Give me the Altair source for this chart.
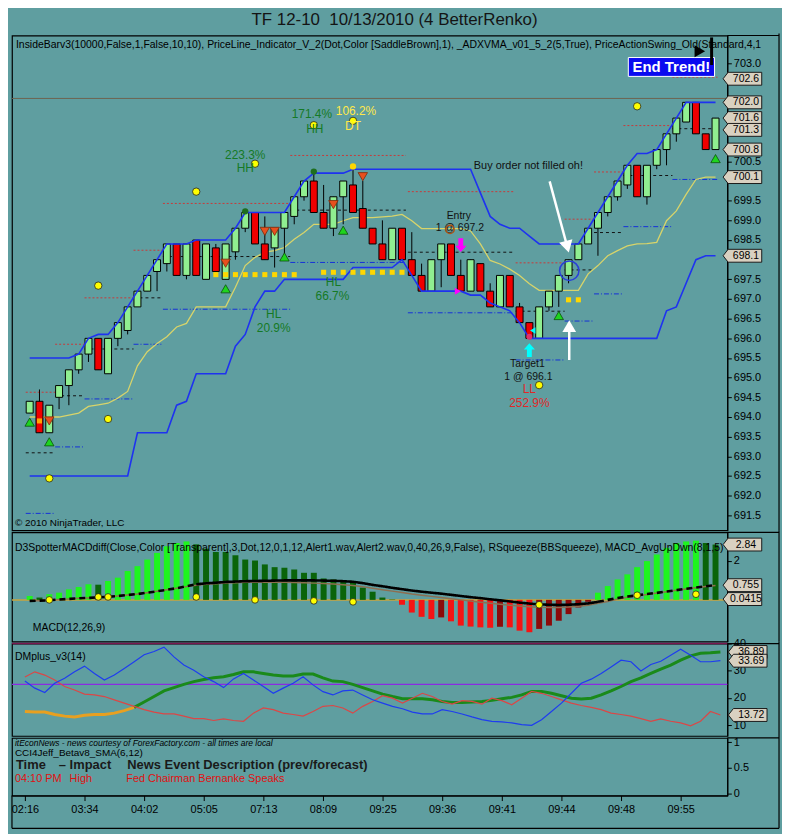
import altair as alt
import pandas as pd

FONT = "Liberation Sans"
BG = "#5F9EA0"
W = 720
H_PRICE, H_MACD, H_DMI, H_NEWS = 498, 110, 93, 58
X_DOMAIN = [-1.3, 70.7]
TAG_I = 73.0
RIGHT_EDGE = 772
FOOT = 33

# ---------------- data ----------------
title_text = "TF 12-10\u00a0 10/13/2010 (4 BetterRenko)"
time_labels = ["02:16", "03:34", "04:02", "05:05", "07:13", "08:09",
               "09:25", "09:36", "09:41", "09:44", "09:48", "09:55"]
tick_bars = [0, 6, 12, 18, 24, 30, 36, 42, 48, 54, 60, 66]
price_ticks = [691.5, 692.0, 692.5, 693.0, 693.5, 694.0, 694.5, 695.0, 695.5,
               696.0, 696.5, 697.0, 697.5, 698.5, 699.0, 699.5,
               700.5, 703.0]

bar_open = [694.1, 694.4, 693.6, 694.5, 694.8, 695.2, 695.6, 696.0, 695.1, 696.0,
            696.2, 696.8, 697.2, 697.7, 697.9, 698.4, 697.6, 698.5, 697.5, 698.3,
            697.5, 698.2, 698.8, 699.2, 698.4, 698.3, 698.8, 699.1, 699.6, 700.0,
            699.2, 698.8, 699.6, 699.9, 699.3, 698.8, 698.4, 698.0, 698.8, 698.0,
            697.6, 697.2, 698.0, 698.4, 697.6, 697.2, 697.9, 697.2, 696.8, 697.6,
            696.8, 696.4, 696.0, 696.8, 697.2, 697.6, 698.0, 698.4, 698.8, 699.2,
            699.6, 699.9, 700.4, 699.6, 700.4, 700.8, 701.2, 701.5, 702.0, 701.2,
            700.8]
bar_close = [694.4, 693.6, 694.3, 694.8, 695.2, 695.6, 696.0, 695.2, 696.0, 696.4,
             696.8, 697.2, 697.6, 698.0, 698.4, 697.6, 698.4, 697.6, 698.4, 697.7,
             698.4, 698.8, 699.2, 698.4, 698.0, 698.8, 699.2, 699.6, 700.0, 699.2,
             698.8, 699.6, 700.0, 699.2, 698.8, 698.4, 698.0, 698.8, 698.0, 697.6,
             697.2, 698.0, 698.4, 697.6, 697.2, 698.0, 697.2, 696.8, 697.6, 696.8,
             696.4, 696.0, 696.8, 697.2, 697.6, 698.0, 698.4, 698.8, 699.2, 699.6,
             700.0, 700.4, 699.6, 700.4, 700.8, 701.2, 701.6, 702.0, 701.2, 700.8,
             701.6]
bar_high = [694.4, 694.7, 694.3, 694.8, 695.2, 695.6, 696.0, 696.0, 696.0, 696.4,
            696.8, 697.2, 697.6, 698.0, 698.4, 698.4, 698.4, 698.5, 698.4, 698.4,
            698.4, 698.8, 699.2, 699.2, 699.1, 698.8, 699.2, 699.6, 700.0, 700.2,
            699.9, 699.6, 700.0, 700.3, 700.0, 698.8, 699.0, 698.8, 698.8, 698.7,
            697.9, 698.0, 698.4, 698.4, 698.0, 698.0, 697.9, 697.4, 697.6, 697.6,
            696.9, 696.4, 696.8, 697.2, 697.6, 698.0, 698.4, 698.8, 699.2, 699.6,
            700.0, 700.4, 700.4, 700.4, 700.8, 701.2, 701.6, 702.0, 702.0, 701.2,
            701.6]
bar_low = [694.1, 693.6, 693.6, 694.2, 694.3, 695.1, 695.4, 695.2, 695.1, 695.8,
           696.1, 696.8, 697.2, 697.2, 697.7, 697.6, 697.5, 697.6, 697.5, 697.7,
           697.5, 698.0, 698.7, 698.4, 698.0, 697.8, 698.1, 698.9, 699.5, 699.2,
           698.8, 698.6, 698.9, 699.2, 698.8, 698.4, 698.0, 698.0, 698.0, 697.6,
           697.2, 697.2, 697.3, 697.6, 697.2, 697.2, 697.2, 696.8, 696.8, 696.8,
           696.4, 696.0, 696.0, 696.7, 696.8, 697.4, 698.0, 698.4, 698.1, 699.1,
           699.5, 699.8, 699.6, 699.4, 700.3, 700.4, 701.0, 701.5, 701.2, 700.8,
           700.8]

upper_band = [695.5, 695.5, 695.5, 695.5, 695.5, 695.6, 696.0, 696.1, 696.1, 696.4,
              696.8, 697.2, 697.6, 698.0, 698.4, 698.4, 698.4, 698.5, 698.5, 698.5,
              698.5, 698.8, 699.2, 699.2, 699.2, 699.2, 699.2, 699.6, 700.0, 700.2,
              700.2, 700.2, 700.2, 700.3, 700.3, 700.3, 700.3, 700.3, 700.3, 700.3,
              700.3, 700.3, 700.3, 700.3, 700.3, 700.3, 699.7, 699.1, 698.9, 698.8,
              698.8, 698.6, 698.4, 698.4, 698.4, 698.4, 698.4, 698.8, 699.2, 699.6,
              700.0, 700.4, 700.7, 700.7, 700.8, 701.2, 701.6, 702.0, 702.0, 702.0,
              702.0]
lower_band = [692.5, 692.5, 692.5, 692.5, 692.5, 692.5, 692.5, 692.5, 692.5, 692.5,
              692.5, 693.6, 693.6, 693.6, 693.6, 694.3, 694.4, 695.1, 695.1, 695.1,
              695.1, 695.8, 696.1, 696.8, 697.2, 697.2, 697.5, 697.5, 697.5, 697.5,
              697.5, 697.5, 697.5, 697.8, 697.8, 697.8, 697.8, 697.8, 698.0, 697.6,
              697.2, 697.2, 697.2, 697.2, 697.2, 697.1, 697.1, 696.9, 696.8, 696.7,
              696.4, 696.0, 696.0, 696.0, 696.0, 696.0, 696.0, 696.0, 696.0, 696.0,
              696.0, 696.0, 696.0, 696.0, 696.0, 696.7, 696.8, 697.4, 698.0, 698.1,
              698.1]
adxvma = [694.0, 694.0, 694.0, 694.0, 694.05, 694.1, 694.27, 694.31, 694.35, 694.48,
          694.65, 695.3, 695.66, 695.87, 696.04, 696.29, 696.38, 696.8, 696.8, 696.8,
          696.8, 697.3, 697.85, 698.06, 698.19, 698.23, 698.31, 698.52, 698.69, 698.9,
          698.9, 698.9, 698.99, 699.07, 699.07, 699.07, 699.09, 699.11, 699.15, 698.99,
          698.79, 698.79, 698.79, 698.79, 698.79, 698.73, 698.4, 697.98, 697.89, 697.76,
          697.6, 697.39, 697.22, 697.22, 697.22, 697.22, 697.22, 697.64, 697.85, 698.1,
          698.23, 698.35, 698.4, 698.41, 698.44, 698.99, 699.24, 699.66, 700.04, 700.1,
          700.1]

# pivot segments (start bar, end bar, R1, PP, S1)
pivot_start = [-0.4, 2.6, 5.6, 10.6, 13.6, 26.6, 38.6, 49.6, 54.6, 57.6, 60.6, 65.6]
pivot_end = [2.6, 5.6, 10.6, 13.6, 26.6, 38.4, 49.4, 54.6, 57.6, 60.6, 65.6, 70.2]
pivot_r1 = [694.63, 695.85, 697.03, 698.24, 699.43, 700.65, 699.73, 697.92, 699.03, 700.23, 701.41, 702.64]
pivot_pp = [693.09, 694.54, 695.73, 697.03, 698.08, 699.26, 698.19, 696.69, 697.74, 698.69, 700.14, 701.33]
pivot_s1 = [691.55, 693.24, 694.46, 695.85, 696.74, 697.93, 696.65, 695.45, 696.44, 697.13, 698.84, 700.04]
price_line_level = [702.1]

square_i = [19, 20, 21, 22, 23, 24, 25, 26, 27, 30, 31, 32, 33, 34, 35, 36, 37, 38, 55, 56]
square_p = [697.62, 697.62, 697.62, 697.62, 697.62, 697.62, 697.62, 697.62, 697.62,
            697.68, 697.68, 697.68, 697.68, 697.68, 697.68, 697.68, 697.68, 697.68,
            696.98, 696.98]
orange_sq_i = [1]
orange_sq_p = [693.9]

swing_dot_i = [2, 7, 8, 17, 23, 29, 33, 52, 62]
swing_dot_p = [692.44, 697.34, 693.95, 699.73, 700.44, 701.42, 701.53, 694.81, 701.9]
green_dot_i = [22, 29]
green_dot_p = [699.23, 700.24]
small_dot_i = [33]
small_dot_p = [700.37]

tri_up_i = [0, 2, 20, 26, 32, 54, 70]
tri_up_p = [693.87, 693.37, 697.26, 698.07, 698.75, 696.58, 700.57]
tri_dn_i = [2, 20, 24, 25, 31, 34]
tri_dn_p = [693.9, 697.91, 698.72, 698.72, 699.4, 700.11]

hh_text = ["223.3%", "HH", "171.4%", "HH", "HL", "20.9%", "HL", "66.7%"]
hh_text_i = [22.0, 22.0, 28.8, 29.1, 24.9, 24.9, 31.0, 30.9]
hh_text_p = [700.67, 700.32, 701.70, 701.33, 696.63, 696.25, 697.44, 697.08]
dt_text = ["106.2%", "DT"]
dt_text_i = [33.3, 33.0]
dt_text_p = [701.78, 701.40]
ll_text = ["LL", "252.9%"]
ll_text_i = [51.0, 51.0]
ll_text_p = [694.71, 694.35]

order_text = ["Entry", "1 @ 697.2", "Target1", "1 @ 696.1"]
order_text_i = [43.8, 43.9, 50.8, 50.9]
order_text_p = [699.12, 698.8, 695.34, 695.02]
note_text = ["Buy order not filled oh!"]
note_i = [50.9]
note_p = [700.37]

price_tags = [702.6, 702.0, 701.6, 701.3, 700.8, 700.1, 698.1]
price_tag_text = ["702.6", "702.0", "701.6", "701.3", "700.8", "700.1", "698.1"]
end_trend = {"i0": [61.1], "i1": [69.9], "p0": [702.66], "p1": [703.14], "ic": [65.5], "pc": [702.9],
             "t": ["End Trend!"]}

macd_hist = [0.20, 0.12, 0.29, 0.37, 0.54, 0.66, 0.80, 0.78, 0.97, 1.14,
             1.48, 1.73, 2.07, 2.41, 2.75, 2.92, 3.00, 2.85, 2.63, 2.46,
             2.46, 2.29, 2.07, 2.02, 1.82, 1.68, 1.65, 1.56, 1.39, 1.39,
             1.10, 1.05, 1.02, 0.93, 0.63, 0.42, 0.12, 0.02, -0.25, -0.65,
             -0.87, -0.98, -0.90, -1.10, -1.32, -1.37, -1.41, -1.43, -1.38, -1.41,
             -1.58, -1.66, -1.49, -1.32, -1.07, -0.73, -0.39, -0.10, 0.37, 0.71,
             1.05, 1.31, 1.68, 1.99, 2.33, 2.67, 2.92, 3.00, 3.04, 2.92,
             2.84]
macd_state = ["up", "dn", "up", "up", "up", "up", "up", "dn", "up", "up",
              "up", "up", "up", "up", "up", "up", "up", "dn", "dn", "dn",
              "dn", "dn", "dn", "dn", "dn", "dn", "dn", "dn", "dn", "dn",
              "dn", "dn", "dn", "dn", "dn", "dn", "dn", "dn", "fall", "fall",
              "fall", "fall", "rise", "fall", "fall", "fall", "fall", "fall", "rise", "fall",
              "fall", "fall", "rise", "rise", "rise", "rise", "rise", "rise", "up", "up",
              "up", "up", "up", "up", "up", "up", "up", "up", "up", "dn",
              "dn"]
macd_avg = [-0.05, -0.04, -0.02, 0.02, 0.05, 0.08, 0.10, 0.13, 0.16, 0.20,
            0.25, 0.30, 0.37, 0.44, 0.52, 0.60, 0.70, 0.80, 0.85, 0.88,
            0.92, 0.94, 0.96, 0.97, 0.98, 0.99, 1.00, 1.00, 1.00, 1.00,
            0.99, 0.98, 0.96, 0.93, 0.86, 0.77, 0.70, 0.62, 0.55, 0.48,
            0.42, 0.37, 0.32, 0.26, 0.20, 0.14, 0.09, 0.03, -0.02, -0.08,
            -0.14, -0.19, -0.23, -0.25, -0.26, -0.25, -0.22, -0.18, -0.10, 0.00,
            0.10, 0.17, 0.23, 0.30, 0.36, 0.43, 0.50, 0.57, 0.63, 0.70,
            0.755]
macd_sig = [-0.05, -0.04, -0.02, 0.02, 0.05, 0.08, 0.10, 0.13, 0.16, 0.20,
            0.25, 0.30, 0.37, 0.44, 0.52, 0.60, 0.68, 0.75, 0.80, 0.83,
            0.86, 0.88, 0.90, 0.90, 0.90, 0.90, 0.90, 0.89, 0.88, 0.86,
            0.84, 0.81, 0.78, 0.74, 0.68, 0.60, 0.52, 0.45, 0.38, 0.30,
            0.24, 0.18, 0.12, 0.06, 0.00, -0.06, -0.12, -0.17, -0.22, -0.27,
            -0.31, -0.35, -0.38, -0.39, -0.39, -0.37, -0.33, -0.27, -0.18, -0.08,
            0.05, 0.14, 0.21, 0.28, 0.35, 0.42, 0.49, 0.56, 0.62, 0.69,
            0.74]
macd_dot_i = [2, 7, 8, 17, 23, 29, 33, 52, 62, 68]
macd_dot_v = [0.0, 0.15, 0.15, 0.15, 0.0, -0.05, -0.1, -0.25, 0.24, 0.29]
macd_tags = [2.84, 0.755, 0.0415]
macd_tag_text = ["2.84", "0.755", "0.0415"]

dmi_plus = [26.2, 23.6, 22.0, 25.4, 27.2, 29.6, 31.7, 29.0, 26.6, 28.4,
            30.8, 33.3, 35.9, 37.1, 38.7, 35.1, 32.1, 30.2, 27.8, 26.0,
            23.8, 27.0, 29.0, 26.6, 24.2, 21.7, 23.6, 25.4, 27.8, 24.8,
            22.3, 21.1, 22.6, 22.9, 21.1, 19.3, 18.1, 16.9, 16.0, 14.8,
            14.1, 14.1, 15.7, 15.0, 14.1, 13.0, 12.0, 11.4, 11.2, 10.8,
            10.2, 9.9, 12.0, 15.0, 18.1, 21.7, 25.4, 26.9, 29.0, 31.4,
            33.9, 33.3, 29.9, 32.3, 33.5, 35.7, 37.9, 35.7, 33.3, 33.3,
            33.7]
dmi_minus = [27.7, 29.6, 28.4, 26.6, 24.2, 22.9, 21.4, 21.1, 20.5, 19.3,
             18.1, 16.9, 15.7, 14.8, 14.1, 14.1, 13.3, 12.4, 12.4, 11.7,
             12.3, 11.7, 11.4, 14.4, 16.3, 15.7, 14.4, 13.9, 13.3, 15.0,
             16.9, 17.2, 16.3, 14.4, 16.9, 18.7, 20.8, 19.9, 18.1, 19.9,
             21.7, 20.5, 18.7, 17.7, 19.0, 18.7, 17.7, 19.9, 19.0, 17.5,
             19.9, 22.4, 21.7, 20.5, 19.3, 18.1, 17.2, 16.5, 15.7, 14.4,
             13.9, 13.3, 12.4, 11.4, 12.3, 11.4, 10.8, 9.7, 11.4, 15.0,
             13.7]
adx = [15.0, 14.8, 14.8, 13.9, 13.3, 13.0, 13.6, 13.9, 13.9, 14.4,
       15.3, 16.5, 18.5, 20.5, 22.6, 23.8, 25.0, 26.0, 26.8, 27.4,
       27.8, 28.6, 29.6, 29.6, 29.0, 28.4, 28.1, 28.1, 28.8, 28.8,
       27.4, 26.2, 26.0, 25.0, 23.8, 22.6, 21.4, 20.5, 19.7, 19.7,
       19.7, 19.3, 18.7, 18.3, 18.3, 18.5, 18.7, 19.1, 19.7, 20.2,
       21.1, 22.4, 22.4, 21.7, 20.8, 19.9, 19.6, 19.9, 21.1, 22.6,
       24.2, 26.0, 27.4, 29.0, 30.6, 32.1, 33.9, 35.5, 36.4, 36.6,
       36.9]
adx_warmup_end = 11
dmi_top_level = [40]
dmi_mid_level = [25]
dmi_tags = [36.89, 33.69, 13.72]
dmi_tag_text = ["36.89", "33.69", "13.72"]

price_header = ("InsideBarv3(10000,False,1,False,10,10), PriceLine_Indicator_V_2(Dot,Color [SaddleBrown],1), "
                "_ADXVMA_v01_5_2(5,True), PriceActionSwing_Old(Standard,4,1")
macd_header = ("D3SpotterMACDdiff(Close,Color [Transparent],3,Dot,12,0,1,12,Alert1.wav,Alert2.wav,0,40,26,9,False), "
               "RSqueeze(BBSqueeze), MACD_AvgUpDwn(8,1,5)")

# ---------------- helpers ----------------
n = len(bar_open)
idx = list(range(n))
xs = alt.Scale(domain=X_DOMAIN, nice=False, zero=False)


def X(field="i"):
    return alt.X(field, type="quantitative", scale=xs, axis=None, title=None)


def make_y(domain, ticks, fmt):
    sc = alt.Scale(domain=domain, nice=False, zero=False)
    ax = alt.Axis(orient="right", values=ticks, format=fmt, title=None, grid=False)

    def f(field):
        return alt.Y(field, type="quantitative", scale=sc, axis=ax, title=None)
    return f


PY = make_y([691.12, 703.70], price_ticks, ".1f")
MY = make_y([-2.14, 3.47], [2], "d")
DY = make_y([6.0, 40.0], [10, 20, 30, 40], "d")
NY = make_y([-0.04, 1.08], [0, 0.5, 1], "~g")

TAG_SHAPE = "M -1.22 0 L -0.94 -0.36 L 0.94 -0.36 L 0.94 0.36 L -0.94 0.36 Z"
ARROW_DOWN = "M -0.35 -1 L 0.35 -1 L 0.35 0.1 L 0.8 0.1 L 0 1 L -0.8 0.1 L -0.35 0.1 Z"
ARROW_UP = "M -0.35 1 L 0.35 1 L 0.35 -0.1 L 0.8 -0.1 L 0 -1 L -0.8 -0.1 L -0.35 -0.1 Z"


def pts(i_list, p_list):
    return pd.DataFrame({"i": i_list, "p": p_list})


def tags(values, texts, yf):
    df = pd.DataFrame({"i": [TAG_I] * len(values), "v": values, "t": texts})
    box = alt.Chart(df).mark_point(shape=TAG_SHAPE, size=1296, filled=True, fill="#D9D1C1",
                                   stroke="#1a1a1a", strokeWidth=1, opacity=1).encode(x=X(), y=yf("v"))
    txt = alt.Chart(df).mark_text(font=FONT, fontSize=10.5, color="black", dx=1).encode(
        x=X(), y=yf("v"), text="t:N")
    return box + txt


def frame(h, foot=0):
    df = pd.DataFrame({"k": [0]})
    top = alt.Chart(df).mark_rule(color="black", strokeWidth=1.2).encode(
        x=alt.value(W), x2=alt.value(RIGHT_EDGE), y=alt.value(0))
    side = alt.Chart(df).mark_rule(color="black", strokeWidth=1.2).encode(
        x=alt.value(RIGHT_EDGE), y=alt.value(-2), y2=alt.value(h + foot))
    out = top + side
    if foot:
        bottom = alt.Chart(df).mark_rule(color="black", strokeWidth=1.2).encode(
            x=alt.value(0), x2=alt.value(RIGHT_EDGE), y=alt.value(h + foot))
        left = alt.Chart(df).mark_rule(color="black", strokeWidth=1.2).encode(
            x=alt.value(0), y=alt.value(h), y2=alt.value(h + foot))
        out = out + bottom + left
    return out


def label(text, x, y, size=10.5, color="black", style="normal", weight="normal", limit=0, font=FONT):
    df = pd.DataFrame({"t": [text]})
    kw = dict(align="left", baseline="middle", font=font, fontSize=size, color=color,
              fontStyle=style, fontWeight=weight)
    if limit:
        kw["limit"] = limit
        kw["ellipsis"] = ""
    return alt.Chart(df).mark_text(**kw).encode(x=alt.value(x), y=alt.value(y), text="t:N")


def text_layer(texts, i_list, p_list, color, size):
    df = pd.DataFrame({"i": i_list, "p": p_list, "t": texts})
    return alt.Chart(df).mark_text(font=FONT, fontSize=size, color=color).encode(
        x=X(), y=PY("p"), text="t:N")


# ---------------- price panel ----------------
bars = pd.DataFrame({"i": idx, "o": bar_open, "c": bar_close, "h": bar_high, "l": bar_low})
bars["dir"] = ["bull" if c >= o else "bear" for o, c in zip(bar_open, bar_close)]
bands = pd.DataFrame({"i": idx, "up": upper_band, "lo": lower_band, "ma": adxvma})
piv = pd.DataFrame({"s": pivot_start, "e": pivot_end, "r": pivot_r1, "p": pivot_pp, "b": pivot_s1})

price_line = alt.Chart(pd.DataFrame({"v": price_line_level})).mark_rule(
    color="#6E6450", strokeWidth=1).encode(y=PY("v"))
piv_r = alt.Chart(piv).mark_rule(color="#C83A3A", strokeDash=[2, 2], strokeWidth=1).encode(
    x=X("s"), x2="e", y=PY("r"))
piv_p = alt.Chart(piv).mark_rule(color="#111111", strokeDash=[3, 3], strokeWidth=1).encode(
    x=X("s"), x2="e", y=PY("p"))
piv_b = alt.Chart(piv).mark_rule(color="#1530D8", strokeDash=[5, 2, 1, 2], strokeWidth=1).encode(
    x=X("s"), x2="e", y=PY("b"))

wicks = alt.Chart(bars).mark_rule(color="black", strokeWidth=1).encode(x=X(), y=PY("l"), y2="h")
bodies = alt.Chart(bars).mark_bar(size=7, stroke="black", strokeWidth=1).encode(
    x=X(), y=PY("o"), y2="c",
    color=alt.Color("dir:N", scale=alt.Scale(domain=["bull", "bear"], range=["#90EE90", "#F00000"]),
                    legend=None))

up_line = alt.Chart(bands).mark_line(color="#1E32F0", strokeWidth=1.6).encode(x=X(), y=PY("up"))
lo_line = alt.Chart(bands).mark_line(color="#1E32F0", strokeWidth=1.6).encode(x=X(), y=PY("lo"))
ma_line = alt.Chart(bands).mark_line(color="#D8D46A", strokeWidth=1.3).encode(x=X(), y=PY("ma"))

squares = alt.Chart(pts(square_i, square_p)).mark_square(
    size=26, filled=True, color="#FFD700", opacity=1).encode(x=X(), y=PY("p"))
orange_sq = alt.Chart(pts(orange_sq_i, orange_sq_p)).mark_square(
    size=26, filled=True, color="#FFA500", opacity=1).encode(x=X(), y=PY("p"))

swing_dots = alt.Chart(pts(swing_dot_i, swing_dot_p)).mark_circle(
    size=55, color="#FFFF00", stroke="#222", strokeWidth=0.8, opacity=1).encode(x=X(), y=PY("p"))
green_dots = alt.Chart(pts(green_dot_i, green_dot_p)).mark_circle(
    size=40, color="#1E6E1E", opacity=1).encode(x=X(), y=PY("p"))
small_dots = alt.Chart(pts(small_dot_i, small_dot_p)).mark_circle(
    size=40, color="#FFD700", opacity=1).encode(x=X(), y=PY("p"))

tri_up = alt.Chart(pts(tri_up_i, tri_up_p)).mark_point(
    shape="triangle-up", size=90, filled=True, fill="#1ED41E", stroke="#0A500A", strokeWidth=0.8, opacity=1
).encode(x=X(), y=PY("p"))
tri_dn = alt.Chart(pts(tri_dn_i, tri_dn_p)).mark_point(
    shape="triangle-down", size=90, filled=True, fill="#E8501E", stroke="#7A2A0A", strokeWidth=0.8, opacity=1
).encode(x=X(), y=PY("p"))

hh_labels = text_layer(hh_text, hh_text_i, hh_text_p, "#157A25", 12)
dt_labels = text_layer(dt_text, dt_text_i, dt_text_p, "#FFE94A", 12)
ll_labels = text_layer(ll_text, ll_text_i, ll_text_p, "#E02828", 12)
orders = text_layer(order_text, order_text_i, order_text_p, "#111111", 10.5)
note = text_layer(note_text, note_i, note_p, "#111111", 11)

# execution / annotation markers
entry_ring = alt.Chart(pts([42.9], [698.77])).mark_point(
    shape="circle", size=70, stroke="#B05010", strokeWidth=1.5, filled=False, opacity=1).encode(x=X(), y=PY("p"))
mag_arrow = alt.Chart(pts([44.0], [698.37])).mark_point(
    shape=ARROW_DOWN, size=196, filled=True, color="#FF00FF", opacity=1).encode(x=X(), y=PY("p"))
mag_tri = alt.Chart(pts([43.7], [697.2])).mark_point(
    shape="triangle-right", size=50, filled=True, color="#FF00FF", opacity=1).encode(x=X(), y=PY("p"))
cyan_arrow = alt.Chart(pts([51.0], [695.7])).mark_point(
    shape=ARROW_UP, size=196, filled=True, color="#00FFFF", opacity=1).encode(x=X(), y=PY("p"))
cyan_tri = alt.Chart(pts([51.35], [696.2])).mark_point(
    shape="triangle-left", size=40, filled=True, color="#00FFFF", opacity=1).encode(x=X(), y=PY("p"))
exit_dot = alt.Chart(pts([51.0], [696.04])).mark_circle(
    size=35, color="#E0306A", opacity=1).encode(x=X(), y=PY("p"))

wa = pd.DataFrame({"i0": [53.07, 55.07], "p0": [699.99, 695.45], "i1": [54.87, 55.07], "p1": [698.33, 696.31]})
white_shafts = alt.Chart(wa).mark_rule(color="white", strokeWidth=2.5).encode(
    x=X("i0"), y=PY("p0"), x2="i1", y2="p1")
white_head1 = alt.Chart(pts([54.87], [698.33])).mark_point(
    shape="triangle-down", size=190, angle=345, filled=True, color="white", opacity=1).encode(x=X(), y=PY("p"))
white_head2 = alt.Chart(pts([55.07], [696.31])).mark_point(
    shape="triangle-up", size=190, filled=True, color="white", opacity=1).encode(x=X(), y=PY("p"))
blue_ring = alt.Chart(pts([55.07], [697.72])).mark_point(
    shape="circle", size=380, filled=False, stroke="#2A40D8", strokeWidth=1.5, opacity=1).encode(x=X(), y=PY("p"))

et = pd.DataFrame(end_trend)
et_box = alt.Chart(et).mark_rect(color="#0A0AF0", stroke="white", strokeWidth=1).encode(
    x=X("i0"), x2="i1", y=PY("p0"), y2="p1")
et_txt = alt.Chart(et).mark_text(font=FONT, fontSize=15, fontWeight="bold", color="white").encode(
    x=X("ic"), y=PY("pc"), text="t:N")
flag_tri = alt.Chart(pts([68.4], [703.3])).mark_point(
    shape="triangle-right", size=150, filled=True, color="black", opacity=1).encode(x=X(), y=PY("p"))
flag_bar = alt.Chart(pd.DataFrame({"i": [69.6], "p0": [702.95], "p1": [703.65]})).mark_rule(
    color="black", strokeWidth=3).encode(x=X(), y=PY("p0"), y2="p1")

price_panel = alt.layer(
    price_line, piv_r, piv_p, piv_b, ma_line, wicks, bodies, up_line, lo_line,
    squares, orange_sq, swing_dots, green_dots, small_dots, tri_up, tri_dn,
    hh_labels, dt_labels, ll_labels, orders, note,
    entry_ring, mag_arrow, mag_tri, cyan_arrow, cyan_tri, exit_dot,
    white_shafts, white_head1, white_head2, blue_ring, et_box, et_txt, flag_tri, flag_bar,
    tags(price_tags, price_tag_text, PY),
    label(price_header, 4, 10, size=10.5, limit=764),
    label("\u00a9 2010 NinjaTrader, LLC", 3, 491, size=10),
    frame(H_PRICE),
).properties(width=W, height=H_PRICE)

# ---------------- MACD panel ----------------
md = pd.DataFrame({"i": idx, "v": macd_hist, "s": macd_state, "g": macd_sig, "base": [0.0] * n})
# dashed / solid pieces of the average line share their end points
seg = []
for k in range(n):
    seg.append({"i": k, "a": macd_avg[k], "piece": "p1" if k <= 17 else ("p2" if k <= 58 else "p3")})
seg.append({"i": 17, "a": macd_avg[17], "piece": "p2"})
seg.append({"i": 58, "a": macd_avg[58], "piece": "p3"})
segdf = pd.DataFrame(seg)
segdf["st"] = segdf["piece"].map({"p1": "dash", "p2": "solid", "p3": "dash"})

zero_rule = alt.Chart(pd.DataFrame({"v": [0.0]})).mark_rule(color="#C9A43C", strokeWidth=1.5).encode(y=MY("v"))
hist = alt.Chart(md).mark_bar(size=6).encode(
    x=X(), y=MY("base"), y2="v",
    color=alt.Color("s:N", scale=alt.Scale(domain=["up", "dn", "fall", "rise"],
                                           range=["#1EF51E", "#0A640A", "#F51414", "#8C0A0A"]), legend=None))
sig_line = alt.Chart(md).mark_line(color="#8E6E50", strokeWidth=1.5).encode(x=X(), y=MY("g"))
avg_line = alt.Chart(segdf).mark_line(color="black", strokeWidth=2.6).encode(
    x=X(), y=MY("a"), detail="piece:N",
    strokeDash=alt.StrokeDash("st:N", scale=alt.Scale(domain=["dash", "solid"], range=[[6, 4], [1, 0]]),
                              legend=None))
macd_dots = alt.Chart(pd.DataFrame({"i": macd_dot_i, "v": macd_dot_v})).mark_circle(
    size=45, color="#FFFF00", stroke="#222", strokeWidth=0.8, opacity=1).encode(x=X(), y=MY("v"))

macd_panel = alt.layer(
    zero_rule, hist, sig_line, avg_line, macd_dots,
    tags(macd_tags, macd_tag_text, MY),
    label(macd_header, 3, 16, size=10.5, limit=764),
    label("MACD(12,26,9)", 21, 96, size=10.5),
    frame(H_MACD),
).properties(width=W, height=H_MACD)

# ---------------- DMI panel ----------------
dm = pd.DataFrame({"i": idx, "p": dmi_plus, "m": dmi_minus, "a": adx})
top_level = alt.Chart(pd.DataFrame({"v": dmi_top_level})).mark_rule(color="#7A1850", strokeWidth=1.4).encode(
    y=DY("v"))
mid_level = alt.Chart(pd.DataFrame({"v": dmi_mid_level})).mark_rule(color="#8A2BE2", strokeWidth=1.2).encode(
    y=DY("v"))
plus_line = alt.Chart(dm).mark_line(color="#1E3CF0", strokeWidth=1.2).encode(x=X(), y=DY("p"))
minus_line = alt.Chart(dm).mark_line(color="#DC4646", strokeWidth=1.2).encode(x=X(), y=DY("m"))
adx_warm = alt.Chart(dm).transform_filter(alt.datum.i <= adx_warmup_end).mark_line(
    color="#E8A020", strokeWidth=3).encode(x=X(), y=DY("a"))
adx_line = alt.Chart(dm).transform_filter(alt.datum.i >= adx_warmup_end).mark_line(
    color="#1A8A1A", strokeWidth=3).encode(x=X(), y=DY("a"))

dmi_panel = alt.layer(
    top_level, mid_level, adx_warm, adx_line, minus_line, plus_line,
    tags(dmi_tags, dmi_tag_text, DY),
    label("DMplus_v3(14)", 3, 14, size=10.5),
    frame(H_DMI),
).properties(width=W, height=H_DMI)

# ---------------- news panel ----------------
label_expr = "[" + ",".join("'%s'" % t for t in time_labels) + "][round(datum.value / 6)]"
x_axis_layer = alt.Chart(pd.DataFrame({"i": tick_bars})).mark_tick(opacity=0).encode(
    x=alt.X("i", type="quantitative", scale=xs, title=None,
            axis=alt.Axis(values=tick_bars, labelExpr=label_expr, tickSize=5, labelPadding=3,
                          labelFontSize=11, grid=False)),
    y=alt.value(0))
y_axis_layer = alt.Chart(pd.DataFrame({"v": [0, 0.5, 1]})).mark_tick(opacity=0).encode(
    y=NY("v"), x=alt.value(0))

news_panel = alt.layer(
    x_axis_layer, y_axis_layer,
    label("itEconNews - news courtesy of ForexFactory.com - all times are local", 3, 5, size=8.5, style="italic"),
    label("CCI4Jeff_Betav8_SMA(6,12)", 3, 15, size=10),
    label("Time", 4, 27, size=13, weight="bold", color="#1a1a1a"),
    label("\u2013", 47, 27, size=13, weight="bold", color="#1a1a1a"),
    label("Impact", 58, 27, size=13, weight="bold", color="#1a1a1a"),
    label("News Event Description (prev/forecast)", 116, 27, size=13, weight="bold", color="#1a1a1a"),
    label("04:10 PM", 3, 41, size=11, color="#E01010"),
    label("High", 58, 41, size=11, color="#E01010"),
    label("Fed Chairman Bernanke Speaks", 115, 41, size=11, color="#E01010"),
    frame(H_NEWS, FOOT),
).properties(width=W, height=H_NEWS)

chart = alt.vconcat(price_panel, macd_panel, dmi_panel, news_panel, spacing=2, bounds="flush").properties(
    title=alt.TitleParams(title_text, font=FONT, fontSize=17, fontWeight="normal", color="#141414",
                          anchor="middle", frame="bounds", offset=3),
    background=BG,
    padding={"left": 0, "top": 0, "right": 1, "bottom": 1},
).resolve_scale(color="independent", strokeDash="independent").configure_view(
    stroke="black", strokeWidth=1.2
).configure_axis(
    labelFont=FONT, labelFontSize=11, labelColor="black", tickColor="black", domainColor="black",
    tickSize=4, labelPadding=2, grid=False
)

chart.save("out.html", embed_options={"renderer": "svg", "actions": False})
